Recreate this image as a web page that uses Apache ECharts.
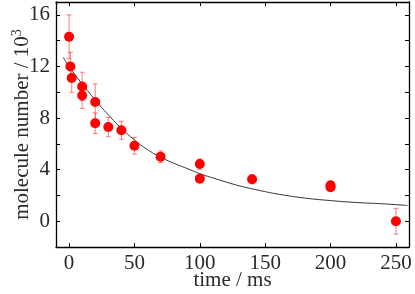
<!DOCTYPE html>
<html>
<head>
<meta charset="utf-8">
<script src="https://cdn.jsdelivr.net/npm/echarts@6/dist/echarts.min.js"></script>
<style>
html,body{margin:0;padding:0;background:#fff;}
#chart{width:415px;height:294px;}
</style>
</head>
<body>
<div id="chart"></div>
<script>
// measured points
const timeMs    = [0, 1, 2, 10, 10, 20, 20, 30, 40, 50, 70, 100, 100, 140, 200, 200, 250];
const molecules = [14.3, 12.0, 11.1, 10.45, 9.75, 9.25, 7.6, 7.3, 7.05, 5.85, 5.0, 4.43, 3.3, 3.25, 2.78, 2.63, 0.0];
const errors    = [1.7, 1.1, 1.1, 1.1, 1.0, 1.4, 0.8, 0.75, 0.7, 0.65, 0.45, 0.4, 0.3, 0.35, 0.2, 0.2, 1.0];
// fitted curve
const fitT = [-4.5, 0, 10, 20, 30, 40, 50, 60, 70, 80, 90, 100, 115, 130, 145, 160, 180, 200, 220, 240, 259];
const fitY = [12.7, 12.0, 10.65, 9.4, 8.25, 7.2, 6.3, 5.55, 4.97, 4.5, 4.1, 3.69, 3.2, 2.75, 2.4, 2.1, 1.8, 1.6, 1.45, 1.35, 1.22];
// tick labels
const xTickLabels = [0, 50, 100, 150, 200, 250];
const yTickLabels = [0, 4, 8, 12, 16];

const pts = timeMs.map((t, i) => [t, molecules[i], errors[i]]);
const fit = fitT.map((t, i) => [t, fitY[i]]);

const FONT = 'Liberation Serif';
const TXT = '#2a2a2a';

const chart = echarts.init(document.getElementById('chart'), null, {renderer: 'canvas'});

const xBase = {
  type: 'value', min: -10, max: 260, splitNumber: 5,
  splitLine: {show: false},
  axisLine: {show: true, onZero: false, lineStyle: {color: '#000', width: 1.3}},
  axisTick: {show: true, inside: true, length: 4, lineStyle: {color: '#000', width: 1}}
};
const yBase = {
  type: 'value', min: -2, max: 17, interval: 2,
  splitLine: {show: false},
  axisLine: {show: true, onZero: false, lineStyle: {color: '#000', width: 1.3}},
  axisTick: {show: true, inside: true, length: 4, lineStyle: {color: '#000', width: 1}}
};

chart.setOption({
  animation: false,
  backgroundColor: '#fff',
  grid: {left: 56, right: 6, top: 2, bottom: 47, containLabel: false, outerBoundsMode: 'none'},
  xAxis: [
    Object.assign({}, xBase, {
      position: 'bottom',
      name: 'time / ms', nameLocation: 'middle', nameGap: 23, nameMoveOverlap: false,
      nameTextStyle: {fontFamily: FONT, fontSize: 21, color: TXT},
      axisLabel: {
        fontFamily: FONT, fontSize: 21, color: TXT, margin: 6,
        formatter: v => xTickLabels.includes(v) ? String(v) : ''
      }
    }),
    Object.assign({}, xBase, {position: 'top', axisLabel: {show: false}})
  ],
  yAxis: [
    Object.assign({}, yBase, {
      position: 'left',
      name: 'molecule number / 10{sup|3}', nameLocation: 'middle', nameGap: 22, nameMoveOverlap: false,
      nameTextStyle: {
        fontFamily: FONT, fontSize: 21, color: TXT,
        rich: {sup: {fontFamily: FONT, fontSize: 14, color: TXT, verticalAlign: 'top', padding: [0, 0, 10, 0]}}
      },
      axisLabel: {
        fontFamily: FONT, fontSize: 21, color: TXT, margin: 6,
        formatter: v => yTickLabels.includes(v) ? String(v) : ''
      }
    }),
    Object.assign({}, yBase, {position: 'right', axisLabel: {show: false}})
  ],
  series: [
    {
      type: 'line', data: fit, showSymbol: false, smooth: true,
      lineStyle: {color: '#333', width: 1}, z: 2, silent: true
    },
    {
      type: 'custom', data: pts, z: 3,
      renderItem: function (params, api) {
        const x = api.value(0), y = api.value(1), e = api.value(2);
        const top = api.coord([x, y + e]);
        const bot = api.coord([x, y - e]);
        const w = 2.5;
        const st = {stroke: 'rgba(255,70,70,0.7)', lineWidth: 1};
        return {
          type: 'group',
          children: [
            {type: 'line', shape: {x1: top[0], y1: top[1], x2: bot[0], y2: bot[1]}, style: st},
            {type: 'line', shape: {x1: top[0] - w, y1: top[1], x2: top[0] + w, y2: top[1]}, style: st},
            {type: 'line', shape: {x1: bot[0] - w, y1: bot[1], x2: bot[0] + w, y2: bot[1]}, style: st}
          ]
        };
      }
    },
    {
      type: 'scatter', data: pts.map(p => [p[0], p[1]]), symbol: 'circle', symbolSize: 10,
      itemStyle: {color: '#ff0000', opacity: 1}, z: 4
    }
  ]
});
</script>
</body>
</html>
